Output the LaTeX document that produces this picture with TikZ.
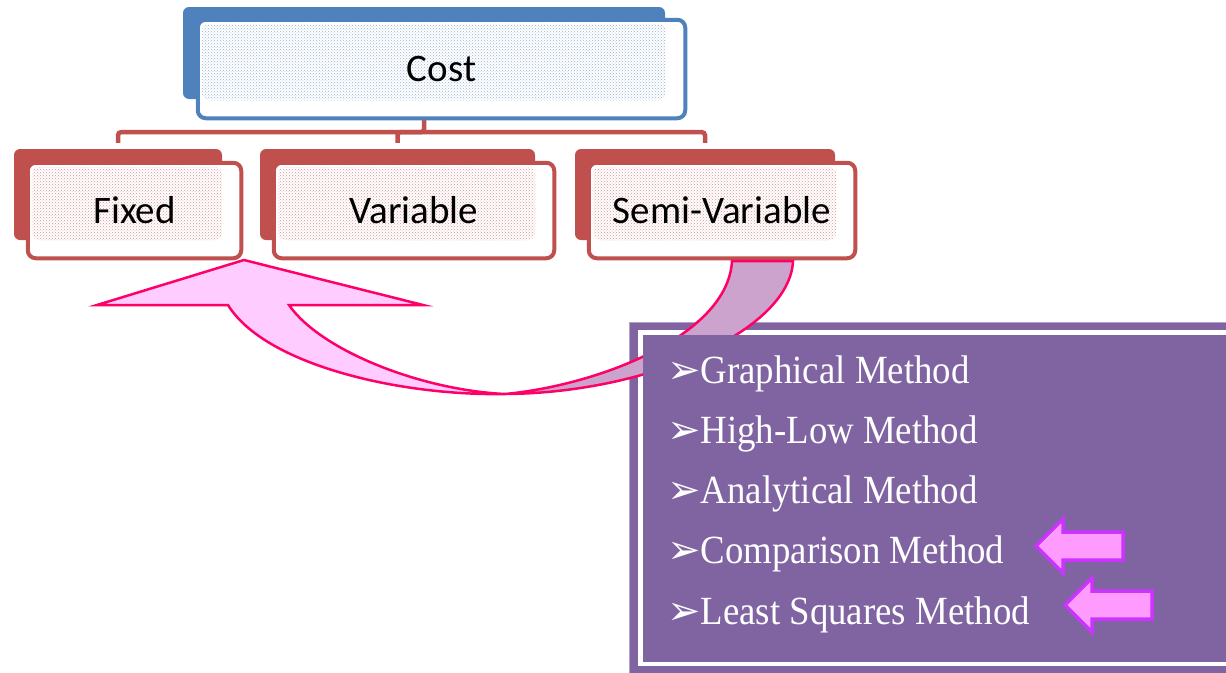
\documentclass[tikz,border=0pt]{standalone}
\usepackage{fontspec}
\newfontfamily\boxfont{Carlito}
\newfontfamily\methodfont{Liberation Serif}[FakeStretch=0.92]
\newfontfamily\dingfont{DejaVu Sans}
\usetikzlibrary{patterns}

\definecolor{costblue}{HTML}{4F81BD}
\definecolor{boxred}{HTML}{C0504D}
\definecolor{panel}{HTML}{8064A2}
\definecolor{panelrim}{HTML}{B3A2C7}
\definecolor{bandlilac}{HTML}{CCA3CC}
\definecolor{arrowpink}{HTML}{FFCCFF}
\definecolor{arrowrim}{HTML}{FF0066}
\definecolor{tagpink}{HTML}{FF9BFF}
\definecolor{tagrim}{HTML}{CC33FF}

\tikzset{
  backbox/.style={fill=#1, rounded corners=6pt, inner sep=0pt},
  frontbox/.style={draw=#1, line width=4pt, fill=white, rounded corners=8pt,
    inner sep=0pt, font=\boxfont\fontsize{39}{39}\selectfont,
    path picture={\fill[pattern=crosshatch dots, pattern color=#1!60]
      ([shift={(4,4)}]path picture bounding box.north west) rectangle
      ([shift={(-19,-18)}]path picture bounding box.south east);}},
  link/.style={draw=boxred, line width=4.5pt, rounded corners=3pt, shorten >=6pt},
  bigarrow/.style={fill=arrowpink, draw=arrowrim, line width=2.5pt, line join=miter},
  band/.style={fill=bandlilac, draw=arrowrim, line width=2.5pt},
  method/.style={anchor=base west, inner sep=0pt, text=white,
    font=\methodfont\fontsize{40}{40}\selectfont},
  tagarrow/.style={fill=tagpink, draw=tagrim, line width=3.5pt, line join=miter},
  pics/tag/.style={code={
    \filldraw[tagarrow] (0,0) -- (27,-27) -- (27,-14) -- (87,-14)
      -- (87,14) -- (27,14) -- (27,27) -- cycle;}}
}

\begin{document}
\begin{tikzpicture}[x=1pt, y=-1pt]
  \useasboundingbox (0,0) rectangle (1226,672);

  % 底层色块
  \node[backbox=costblue, minimum width=482, minimum height=92] (costb) at (424,53) {};
  \node[backbox=boxred, minimum width=208, minimum height=91] (fixedb) at (118,194.5) {};
  \node[backbox=boxred, minimum width=275, minimum height=91] (variableb) at (397.5,194.5) {};
  \node[backbox=boxred, minimum width=260, minimum height=91] (semib) at (705,194.5) {};

  % 连线
  \draw[link] (costb.south) -- ++(0,33) -| (fixedb.north);
  \draw[link] (costb.south) ++(0,33) -| (variableb.north);
  \draw[link] (costb.south) ++(0,33) -| (semib.north);

  % 前景方框
  \node[frontbox=costblue, minimum width=487.5, minimum height=98.5] (cost) at (441.5,69) {Cost};
  \node[frontbox=boxred, minimum width=213.5, minimum height=95.5] (fixed) at (134.5,210.5) {Fixed};
  \node[frontbox=boxred, minimum width=280.5, minimum height=95.5] (variable) at (414,210.5) {Variable};
  \node[frontbox=boxred, minimum width=266.5, minimum height=95.5] (semi) at (722,210.5) {Semi-Variable};

  % 紫色外框
  \fill[panel] (629,322) rectangle (1240,690);
  \draw[panelrim, line width=1pt] (629,322) rectangle (1240,690);
  \draw[white, line width=4.5pt] (640.5,332.5) rectangle (1240,664);

  % 弯箭头的背面
  \filldraw[band] (732,261) .. controls (728,335) and (600,385) .. (505,394)
    .. controls (650,393) and (790,330) .. (793,261) -- cycle;

  % 内部色块
  \fill[panel] (643,335) rectangle (1240,662);

  % 弯箭头
  \filldraw[bigarrow] (244,260) -- (423,305) -- (289,305)
    .. controls (320,350) and (420,390) .. (505,394)
    .. controls (400,396) and (265,365) .. (228,305) -- (97,305) -- cycle;

  % 方法列表
  \foreach \txt [count=\i] in {Graphical Method, High-Low Method, Analytical Method,
      Comparison Method, Least Squares Method}
    \node[method] (m\i) at (667,{322.7+60.3*\i})
      {{\dingfont\fontsize{40}{40}\selectfont ➢}\txt};

  % 小箭头
  \foreach \x/\y in {1036/546, 1065/605}
    \pic at (\x,\y) {tag};

\end{tikzpicture}
\end{document}
